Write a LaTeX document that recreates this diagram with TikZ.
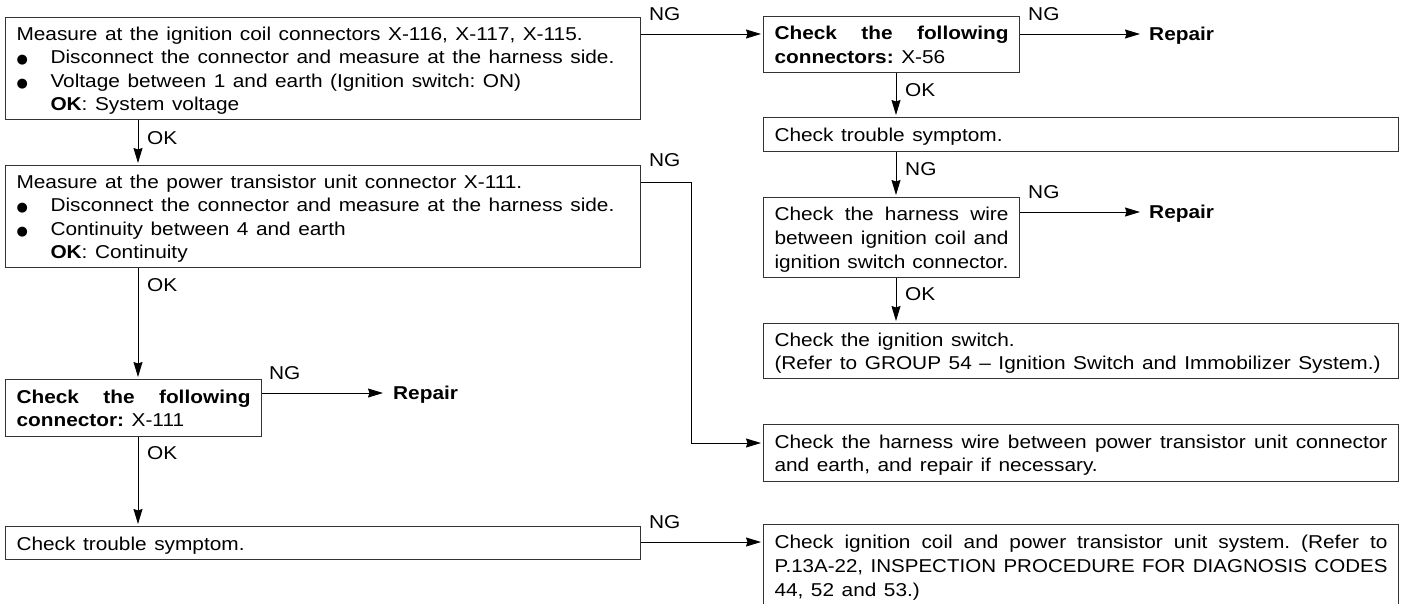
\documentclass[tikz,border=0pt]{standalone}
\usepackage{fontspec}
\usepackage{graphicx}
\setmainfont{Liberation Sans}[FakeStretch=1.12, WordSpace=1.3]
\newfontfamily\dejavu{DejaVu Sans}
\usetikzlibrary{arrows.meta,calc}
\hyphenpenalty=10000
\exhyphenpenalty=10000
\frenchspacing
\newcommand\blt{\makebox[34pt][l]{\raisebox{0pt}{\dejavu\fontsize{13}{13}\selectfont ●}}}
\newcommand\ind{\hspace*{34pt}}
\newcommand\bx[1]{\rule{0pt}{14pt}#1\par\kern-\prevdepth}
\begin{document}
\begin{tikzpicture}[x=1pt,y=-1pt,
  txt/.style={font=\fontsize{18.6}{23.6}\selectfont},
  box/.style={txt, draw=black!80, line width=1pt, anchor=north west, inner xsep=11pt, inner ysep=0pt, align=justify},
  wide/.style={box, text width=613pt, minimum width=635pt},
  narrow/.style={box, text width=234pt, minimum width=256pt},
  lbl/.style={txt, inner sep=0pt},
  rep/.style={inner sep=0pt, anchor=base west, font=\fontsize{18.6}{23.6}\selectfont\bfseries},
  conn/.style={line width=0.9pt},
  arr/.style={conn, -{Stealth[length=15pt,width=9pt,inset=1.5pt]}, shorten >=2pt},
]
\useasboundingbox (0,0) rectangle (1406,603);

% left column
\node[wide, minimum height=102pt] (b1) at (5,17) {\bx{Measure at the ignition coil connectors X-116, X-117, X-115.\\
\blt Disconnect the connector and measure at the harness side.\\
\blt Voltage between 1 and earth (Ignition switch: ON)\\
\ind\textbf{OK}: System voltage}};
\node[wide, minimum height=102pt] (b2) at (5,165) {\bx{Measure at the power transistor unit connector X-111.\\
\blt Disconnect the connector and measure at the harness side.\\
\blt Continuity between 4 and earth\\
\ind\textbf{OK}: Continuity}};
\node[narrow, minimum height=57pt] (b4) at (5,379) {\bx{\textbf{Check the following}\linebreak \textbf{connector:} X-111}};
\node[wide, minimum height=33pt] (b5) at (5,526) {\bx{Check trouble symptom.}};

% right column
\node[narrow, minimum height=56pt] (b3) at (763,16) {\bx{\textbf{Check the following}\linebreak \textbf{connectors:} X-56}};
\node[wide, minimum height=34pt] (t2) at (763,117) {\bx{Check trouble symptom.}};
\node[narrow, minimum height=80pt] (h1) at (763,197) {\bx{Check the harness wire\linebreak between ignition coil and\linebreak ignition switch connector.}};
\node[wide, minimum height=55pt] (ig) at (763,323) {\bx{Check the ignition switch.\\(Refer to GROUP 54 -- Ignition Switch and Immobilizer System.)}};
\node[wide, minimum height=57pt] (h2) at (763,424) {\bx{Check the harness wire between power transistor unit connector\linebreak and earth, and repair if necessary.}};
\node[wide, minimum height=82pt] (last) at (763,524) {\bx{Check ignition coil and power transistor unit system. (Refer to\linebreak \resizebox{\linewidth}{\height}{P.13A-22, INSPECTION PROCEDURE FOR DIAGNOSIS CODES}\linebreak 44, 52 and 53.)}};

% repair labels
\node[rep] (r1) at (1149,40.6) {Repair};
\node[rep] (r2) at (1149,218.6) {Repair};
\node[rep] (r3) at (393,399.6) {Repair};

% b1 -> b3 (NG)
\coordinate (n1) at ($(b1.north east)+(0,17)$);
\draw[arr] (n1) -- (n1 -| b3.west);
\node[lbl, anchor=south west] (ng1) at ($(n1)+(8,-13)$) {NG};

% b1 -> b2 (OK)
\coordinate (v1) at ($(b1.south west)+(133,0)$);
\draw[arr] (v1) -- (v1 |- b2.north);
\node[lbl, anchor=west] (ok1) at ($(v1)+(9,18)$) {OK};

% b2 -> h2 (NG)
\coordinate (n2) at ($(b2.north east)+(0,17)$);
\coordinate (e2) at ($(h2.north west)+(0,19)$);
\draw[arr] (n2) -- ++(50,0) |- (e2);
\node[lbl, anchor=south west] (ng2) at ($(n2)+(8,-15)$) {NG};

% b2 -> b4 (OK)
\coordinate (v2) at ($(b2.south west)+(133,0)$);
\draw[arr] (v2) -- (v2 |- b4.north);
\node[lbl, anchor=west] (ok2) at ($(v2)+(9,17)$) {OK};

% b4 -> r3 (NG)
\coordinate (n4) at ($(b4.north east)+(0,14)$);
\draw[arr, shorten >=10pt] (n4) -- (n4 -| r3.west);
\node[lbl, anchor=south west] (ng4) at ($(n4)+(7,-13)$) {NG};

% b4 -> b5 (OK)
\coordinate (v4) at ($(b4.south west)+(133,0)$);
\draw[arr] (v4) -- (v4 |- b5.north);
\node[lbl, anchor=west] (ok4) at ($(v4)+(9,16)$) {OK};

% b5 -> last (NG)
\coordinate (n5) at ($(b5.north east)+(0,16)$);
\draw[arr] (n5) -- (n5 -| last.west);
\node[lbl, anchor=south west] (ng5) at ($(n5)+(8,-13)$) {NG};

% b3 -> r1 (NG)
\coordinate (n3) at ($(b3.north east)+(0,18)$);
\draw[arr, shorten >=9pt] (n3) -- (n3 -| r1.west);
\node[lbl, anchor=south west] (ng3) at ($(n3)+(8,-13)$) {NG};

% b3 -> t2 (OK)
\coordinate (v3) at ($(b3.south west)+(133,0)$);
\draw[arr] (v3) -- (v3 |- t2.north);
\node[lbl, anchor=west] (ok3) at ($(v3)+(9,17)$) {OK};

% t2 -> h1 (NG)
\coordinate (v5) at ($(t2.south west)+(133,0)$);
\draw[arr] (v5) -- (v5 |- h1.north);
\node[lbl, anchor=west] (ng6) at ($(v5)+(9,17)$) {NG};

% h1 -> r2 (NG)
\coordinate (n6) at ($(h1.north east)+(0,15)$);
\draw[arr, shorten >=9pt] (n6) -- (n6 -| r2.west);
\node[lbl, anchor=south west] (ng7) at ($(n6)+(8,-13)$) {NG};

% h1 -> ig (OK)
\coordinate (v6) at ($(h1.south west)+(133,0)$);
\draw[arr] (v6) -- (v6 |- ig.north);
\node[lbl, anchor=west] (ok6) at ($(v6)+(9,16)$) {OK};
\end{tikzpicture}
\end{document}
